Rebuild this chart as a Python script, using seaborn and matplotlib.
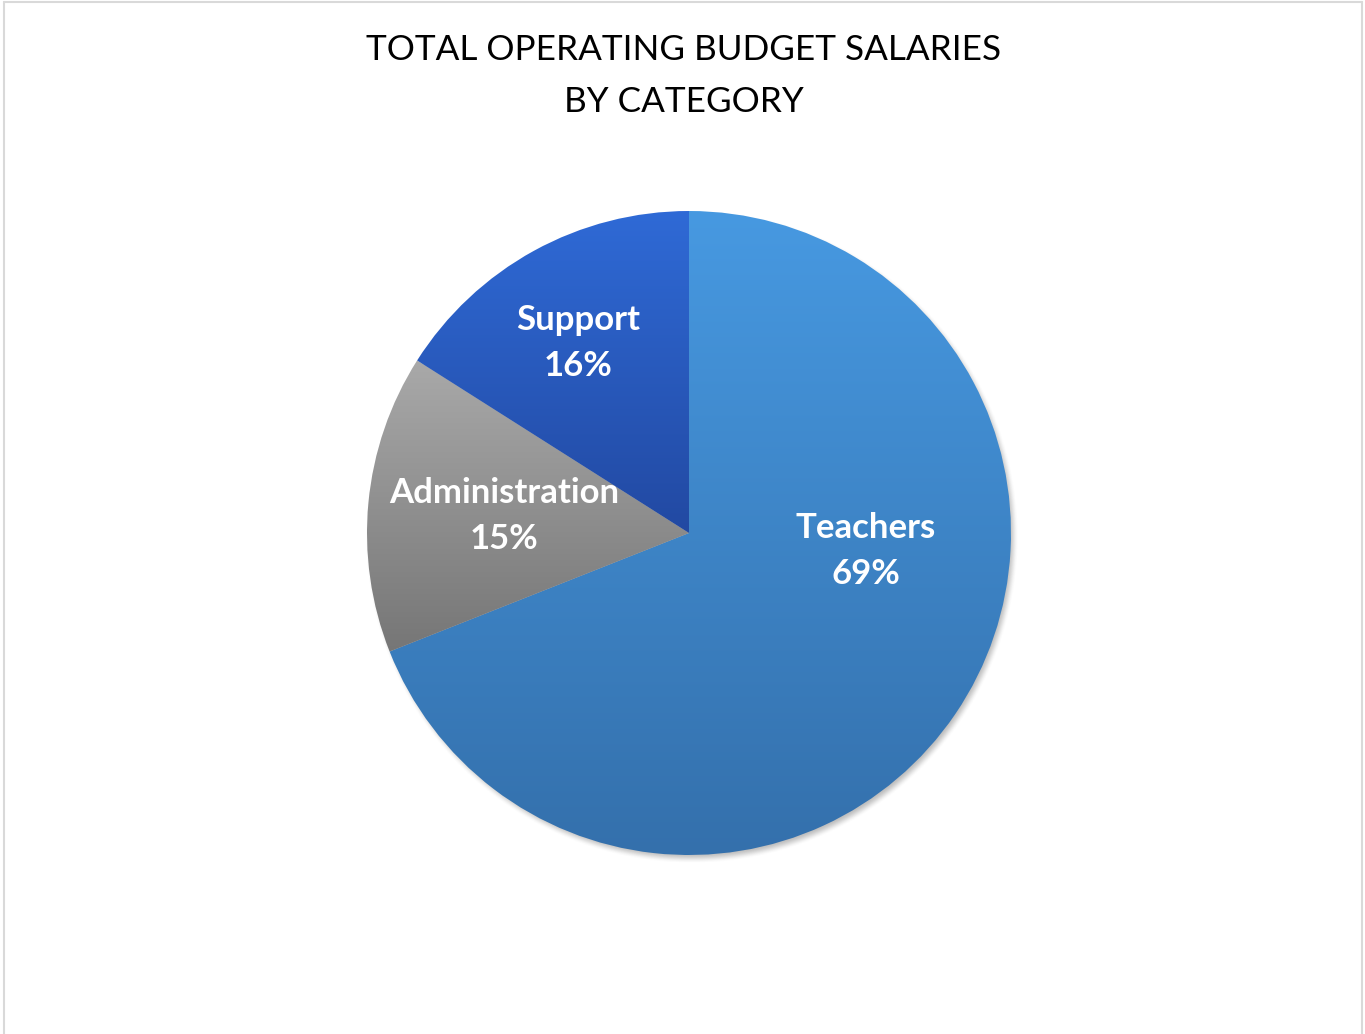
import numpy as np
import matplotlib
matplotlib.use("Agg")
import matplotlib.pyplot as plt
from matplotlib.lines import Line2D
import seaborn as sns

# Salary shares by staff category
categories = ["Teachers", "Administration", "Support"]
shares = [69, 15, 16]
grad_top = ["#4799E1", "#A9A9A9", "#2F6AD6"]
grad_bottom = ["#3470AC", "#767676", "#2249A2"]
title = "TOTAL OPERATING BUDGET SALARIES\nBY CATEGORY"

sns.set_theme(style="white")
plt.rcParams["font.family"] = ["Lato", "DejaVu Sans"]

W, H = 1365, 1034
fig = plt.figure(figsize=(W / 100, H / 100), dpi=100)
ax = fig.add_axes([0, 0, 1, 1])

cx, cy, R = 689, H - 533, 322

# soft drop shadow under the pie
pad = 40
xs = np.linspace(cx - R - pad, cx + R + pad, 500)
ys = np.linspace(cy + R + pad, cy - R - pad, 500)
X, Y = np.meshgrid(xs, ys)
d = np.hypot(X - (cx + 3), Y - (cy - 4))
a = np.clip((R + 5 - d) / 10.0, 0, 1)
a = a * a * (3 - 2 * a) * 0.35
shadow = np.zeros(X.shape + (4,))
shadow[..., :3] = 0.25
shadow[..., 3] = a
ax.imshow(shadow, extent=(xs[0], xs[-1], ys[-1], ys[0]), origin="upper",
          zorder=0, interpolation="bilinear")

wedges, _ = ax.pie(shares, startangle=90, counterclock=False,
                   center=(cx, cy), radius=R, frame=True,
                   wedgeprops=dict(linewidth=0))

grad = np.linspace(0, 1, 256).reshape(-1, 1)
for w, top, bot in zip(wedges, grad_top, grad_bottom):
    w.set_facecolor("none")
    t = np.radians(np.linspace(w.theta1, w.theta2, 200))
    py = np.concatenate([[cy], cy + R * np.sin(t)])
    cmap = sns.blend_palette([top, bot], as_cmap=True)
    im = ax.imshow(grad, cmap=cmap, aspect="auto", origin="upper",
                   extent=(cx - R, cx + R, py.min(), py.max()),
                   zorder=1, interpolation="bilinear")
    im.set_clip_path(w)

# category labels inside the slices
label_pos = {"Teachers": (866, 551), "Administration": (504, 516), "Support": (578, 343)}
for cat, val in zip(categories, shares):
    x, y = label_pos[cat]
    ax.text(x, H - y, f"{cat}\n{val}%", ha="center", va="center", color="white",
            fontsize=25, fontweight="bold", linespacing=1.52, zorder=3)

ax.text(W / 2 + 1, H - 76, title, ha="center", va="center", fontsize=25.3,
        color="black", linespacing=1.78, zorder=3)

# chart area outline
for xd, yd in [([3.5, 3.5], [0, H - 2]), ([3.5, W - 3], [H - 2, H - 2]), ([W - 3, W - 3], [H - 2, 0])]:
    ax.add_line(Line2D(xd, yd, color="#D9D9D9", linewidth=1.5, zorder=4))

ax.set_xlim(0, W)
ax.set_ylim(0, H)
ax.set_aspect("auto")
ax.axis("off")
fig.savefig("out.png", dpi=100, facecolor="white")
